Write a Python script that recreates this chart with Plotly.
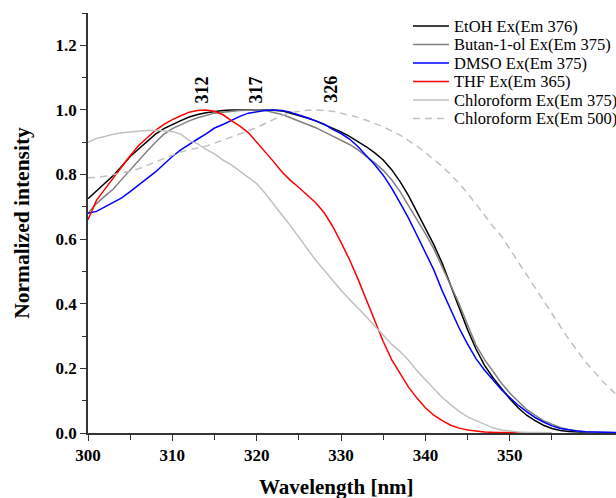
import plotly.graph_objects as go

wavelength = list(range(300, 364))

etoh = [0.725,0.75,0.775,0.797,0.826,0.856,0.879,0.903,0.925,0.942,
        0.955,0.967,0.978,0.986,0.991,0.995,0.998,1.0,1.0,1.0,
        1.0,1.0,0.999,0.997,0.99,0.983,0.975,0.966,0.955,0.944,
        0.932,0.918,0.903,0.886,0.867,0.845,0.815,0.778,0.735,0.685,
        0.635,0.583,0.525,0.455,0.39,0.32,0.26,0.21,0.172,0.138,
        0.106,0.078,0.055,0.038,0.024,0.014,0.008,0.005,0.003,0.002,
        0.001,0.001,0.001,0.001]

butanol = [0.68,0.71,0.733,0.755,0.785,0.815,0.843,0.872,0.9,0.925,
           0.942,0.955,0.966,0.976,0.984,0.99,0.993,0.996,0.998,0.999,
           1.0,0.998,0.993,0.986,0.976,0.966,0.955,0.945,0.932,0.919,
           0.906,0.893,0.876,0.856,0.836,0.813,0.784,0.747,0.705,0.66,
           0.617,0.57,0.515,0.46,0.4,0.335,0.272,0.228,0.19,0.155,
           0.124,0.097,0.073,0.055,0.038,0.027,0.017,0.01,0.006,0.003,
           0.002,0.001,0.001,0.001]

dmso = [0.68,0.686,0.70,0.713,0.728,0.747,0.767,0.786,0.808,0.832,
        0.856,0.876,0.894,0.91,0.926,0.944,0.955,0.968,0.98,0.99,
        0.995,0.998,1.0,0.998,0.993,0.985,0.976,0.966,0.956,0.94,
        0.927,0.91,0.887,0.858,0.83,0.798,0.758,0.712,0.665,0.612,
        0.56,0.505,0.44,0.38,0.325,0.275,0.23,0.195,0.165,0.135,
        0.11,0.086,0.066,0.048,0.034,0.022,0.014,0.009,0.006,0.004,
        0.003,0.002,0.002,0.001]

thf = [0.66,0.72,0.755,0.79,0.825,0.858,0.89,0.915,0.937,0.955,
       0.97,0.982,0.993,0.998,1.0,0.996,0.985,0.967,0.95,0.93,
       0.9,0.872,0.84,0.808,0.782,0.76,0.738,0.713,0.682,0.64,
       0.59,0.537,0.477,0.412,0.348,0.283,0.227,0.183,0.142,0.108,
       0.078,0.055,0.038,0.024,0.015,0.009,0.005,0.003,0.002,0.001,
       0.001,0.001,0.001]

chloro375 = [0.9,0.912,0.918,0.925,0.929,0.932,0.934,0.936,0.937,0.936,
             0.933,0.925,0.905,0.895,0.878,0.864,0.845,0.83,0.81,0.792,
             0.772,0.742,0.71,0.675,0.642,0.605,0.57,0.535,0.503,0.472,
             0.442,0.414,0.388,0.36,0.331,0.303,0.275,0.252,0.225,0.193,
             0.165,0.136,0.11,0.088,0.067,0.05,0.038,0.026,0.016,0.009,
             0.005,0.003,0.002,0.001,0.001,0.001]

chloro500 = [0.79,0.791,0.795,0.8,0.805,0.81,0.818,0.828,0.838,0.848,
             0.86,0.87,0.877,0.883,0.888,0.897,0.907,0.916,0.925,0.935,
             0.945,0.958,0.97,0.983,0.992,0.996,0.999,1.0,0.999,0.996,
             0.99,0.984,0.977,0.968,0.958,0.948,0.935,0.922,0.905,0.888,
             0.868,0.847,0.825,0.8,0.773,0.742,0.71,0.675,0.64,0.61,
             0.57,0.53,0.49,0.45,0.41,0.37,0.33,0.29,0.255,0.22,
             0.19,0.16,0.135,0.11]

series_names = ["EtOH Ex(Em 376)", "Butan-1-ol Ex(Em 375)", "DMSO Ex(Em 375)",
                "THF Ex(Em 365)", "Chloroform Ex(Em 375)", "Chloroform Ex(Em 500)"]
series_values = [etoh, butanol, dmso, thf, chloro375, chloro500]
series_colors = ["#000000", "#808080", "#0000ff", "#ff0000", "#c0c0c0", "#c0c0c0"]
series_dash = ["solid", "solid", "solid", "solid", "solid", "7px,5px"]

x_major_ticks = [300, 310, 320, 330, 340, 350]
x_minor_ticks = [305, 315, 325, 335, 345, 355]

peak_labels = ["312", "317", "326"]
peak_label_x = [313.5, 319.9, 328.7]
peak_label_y = 1.063

FONT = "Liberation Serif, Times New Roman, serif"

W, H = 616, 498
ML, MR, MT, MB = 88, 0, 13, 65
PW, PH = W - ML - MR, H - MT - MB


def px_to_paper(px, py):
    return (px - ML) / PW, (H - MB - py) / PH


fig = go.Figure()
for name, vals, col, dash in zip(series_names, series_values, series_colors, series_dash):
    fig.add_trace(go.Scatter(x=wavelength[:len(vals)], y=vals, mode="lines", name=name,
                             showlegend=False,
                             line=dict(color=col, width=1.5, dash=dash)))

# legend drawn as a key (line sample + label), matching the compact original spacing
for i, (name, col, dash) in enumerate(zip(series_names, series_colors, series_dash)):
    row_y = 26 + i * 18.5
    x0, y0 = px_to_paper(413, row_y)
    x1, _ = px_to_paper(449, row_y)
    xt, _ = px_to_paper(452, row_y)
    fig.add_shape(type="line", xref="paper", yref="paper", x0=x0, x1=x1, y0=y0, y1=y0,
                  line=dict(color=col, width=1.5, dash=dash))
    fig.add_annotation(x=xt, y=y0, xref="paper", yref="paper", xanchor="left", yanchor="middle",
                       text=name, showarrow=False,
                       font=dict(family=FONT, size=16.5, color="#000"))

for lab, lx in zip(peak_labels, peak_label_x):
    fig.add_annotation(x=lx, y=peak_label_y, xref="x", yref="y", text=lab, showarrow=False,
                       textangle=-90, font=dict(family=FONT, size=18, color="#000", weight="bold"))

fig.add_annotation(x=0.47, y=0, xref="paper", yref="paper", yshift=-54, yanchor="middle",
                   text="Wavelength [nm]", showarrow=False,
                   font=dict(family=FONT, size=21, color="#000", weight="bold"))

axis_common = dict(showgrid=False, zeroline=False, showline=True, linecolor="#333",
                   linewidth=1.5, tickcolor="#333", tickwidth=1.2)

fig.update_layout(
    width=W, height=H,
    margin=dict(l=ML, r=MR, t=MT, b=MB),
    plot_bgcolor="white", paper_bgcolor="white",
    font=dict(family=FONT, color="#000"),
    showlegend=False,
    xaxis=dict(range=[300, 362.6], tickmode="array", tickvals=x_major_ticks,
               ticktext=[str(v) for v in x_major_ticks], ticks="outside", ticklen=6,
               minor=dict(tickmode="array", tickvals=x_minor_ticks, ticks="outside", ticklen=5,
                          tickcolor="#333", tickwidth=1.2),
               tickfont=dict(family=FONT, size=17, color="#000", weight="bold"),
               automargin=False, **axis_common),
    xaxis2=dict(range=[300, 362.6], overlaying="x", side="top", tick0=300, dtick=5.25,
                ticks="outside", ticklen=2, showticklabels=False,
                showgrid=False, zeroline=False, showline=True, linecolor="#333",
                linewidth=1.2, tickcolor="#555", tickwidth=1, automargin=False),
    yaxis=dict(range=[0, 1.3], tick0=0, dtick=0.2, ticks="outside", ticklen=6,
               tickformat=".1f",
               minor=dict(dtick=0.1, ticks="outside", ticklen=4, tickcolor="#333", tickwidth=1.2),
               tickfont=dict(family=FONT, size=17, color="#000", weight="bold"),
               title=dict(text="Normalized intensity", standoff=20,
                          font=dict(family=FONT, size=21.5, color="#000", weight="bold")),
               automargin=False, **axis_common),
)

fig.write_html("out.html", config={"displayModeBar": False},
               post_script="document.body.style.margin='0';document.body.style.padding='0';")
